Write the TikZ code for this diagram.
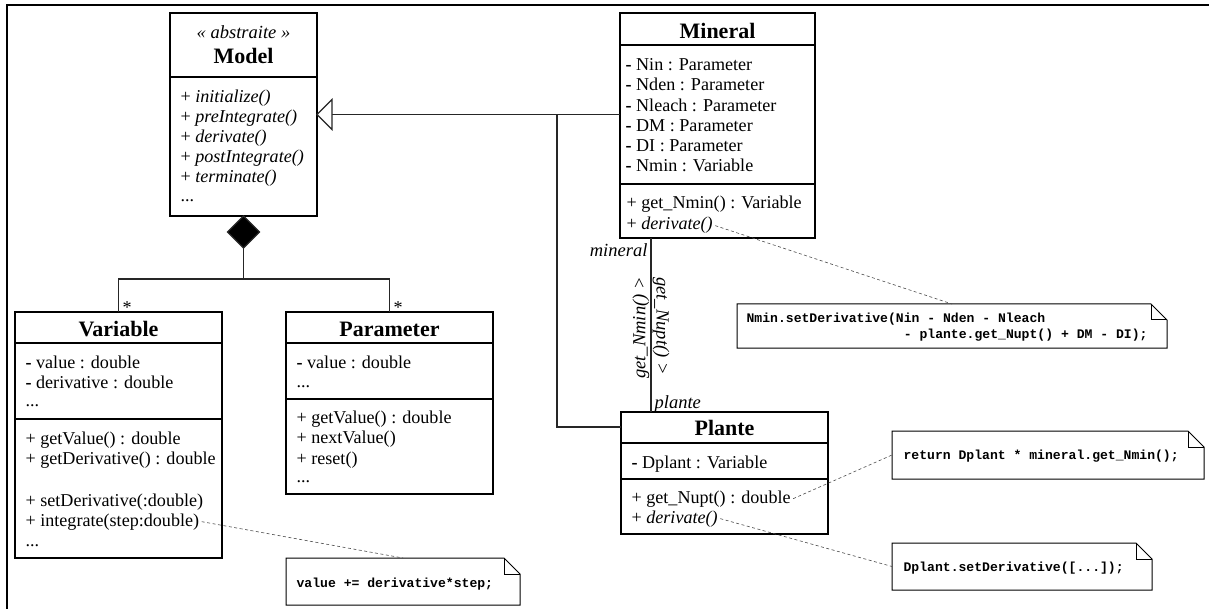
\documentclass[tikz,border=0pt]{standalone}
\usepackage{fontspec}
\setmainfont{Liberation Serif}
\newfontfamily\codefont{Liberation Mono}
\usetikzlibrary{calc}
\begin{document}
\begin{tikzpicture}[x=1pt,y=-1pt,
  line width=1.2pt,
  classbox/.style={draw, anchor=north west, inner sep=0pt, outer sep=0pt, fill=white},
  member/.style={anchor=base west, inner sep=0pt, font=\fontsize{18.1}{20}\selectfont},
  classname/.style={anchor=base, inner sep=0pt, font=\fontsize{22}{24}\selectfont\bfseries},
  role/.style={inner sep=0pt, font=\fontsize{18.5}{20}\selectfont\itshape},
  notebox/.style={anchor=north west, inner sep=0pt, outer sep=0pt},
  code/.style={anchor=base west, inner sep=0pt, font=\fontsize{13.1}{15}\codefont\bfseries},
  link/.style={line width=1.2pt, black!85},
  notelink/.style={line width=0.6pt, dash pattern=on 3pt off 2.5pt, black!70},
]
\useasboundingbox (0,0) rectangle (1209,609);
\fill[white] (0,0) rectangle (1209,609);

% frame
\draw (7,609) -- (7,5) -- (1209,5);

% ---------- Model ----------
\node[classbox, minimum width=147pt, minimum height=203pt] (model) at (170,13) {};
\draw ($(model.north west)+(0,64)$) -- ($(model.north east)+(0,64)$);
\node[role, anchor=base] at (243.5,39) {« abstraite »};
\node[classname] at (243.5,64) {Model};
\node[member] at (180,103) {+ \textit{initialize()}};
\node[member] at (180,123) {+ \textit{preIntegrate()}};
\node[member] at (180,143) {+ \textit{derivate()}};
\node[member] at (180,163) {+ \textit{postIntegrate()}};
\node[member] at (180,183) {+ \textit{terminate()}};
\node[member] at (180,202) {...};

% ---------- Mineral ----------
\node[classbox, minimum width=195pt, minimum height=225pt] (mineral) at (620,13) {};
\draw ($(mineral.north west)+(0,32)$) -- ($(mineral.north east)+(0,32)$);
\draw ($(mineral.north west)+(0,171)$) -- ($(mineral.north east)+(0,171)$);
\node[classname] at (717.5,39) {Mineral};
\node[member] at (625,71) {\textbf{-} Nin : Parameter};
\node[member] at (625,91) {\textbf{-} Nden : Parameter};
\node[member] at (625,112) {\textbf{-} Nleach : Parameter};
\node[member] at (625,132) {\textbf{-} DM : Parameter};
\node[member] at (625,152) {\textbf{-} DI : Parameter};
\node[member] at (625,172) {\textbf{-} Nmin : Variable};
\node[member] at (626,209) {+ get\_Nmin() : Variable};
\node[member] (minder) at (626,230) {+ \textit{derivate()}};

% ---------- Plante ----------
\node[classbox, minimum width=207pt, minimum height=122pt] (plante) at (621,412) {};
\draw ($(plante.north west)+(0,31)$) -- ($(plante.north east)+(0,31)$);
\draw ($(plante.north west)+(0,67)$) -- ($(plante.north east)+(0,67)$);
\node[classname] at (724.5,435) {Plante};
\node[member] at (631,468) {\textbf{-} Dplant : Variable};
\node[member] (nupt) at (631,503) {+ get\_Nupt() : double};
\node[member] (plder) at (631,523) {+ \textit{derivate()}};

% ---------- Variable ----------
\node[classbox, minimum width=207pt, minimum height=246pt] (variable) at (15,312) {};
\draw ($(variable.north west)+(0,31)$) -- ($(variable.north east)+(0,31)$);
\draw ($(variable.north west)+(0,107)$) -- ($(variable.north east)+(0,107)$);
\node[classname] at (118.5,336) {Variable};
\node[member] at (25,368) {\textbf{-} value : double};
\node[member] at (25,388) {\textbf{-} derivative : double};
\node[member] at (25,406) {...};
\node[member] at (25,444) {+ getValue() : double};
\node[member] at (25,464) {+ getDerivative() : double};
\node[member] at (25,506) {+ setDerivative(:double)};
\node[member] (integ) at (25,526) {+ integrate(step:double)};
\node[member] at (25,546) {...};

% ---------- Parameter ----------
\node[classbox, minimum width=207pt, minimum height=182pt] (parameter) at (286,312) {};
\draw ($(parameter.north west)+(0,31)$) -- ($(parameter.north east)+(0,31)$);
\draw ($(parameter.north west)+(0,87)$) -- ($(parameter.north east)+(0,87)$);
\node[classname] at (389.5,336) {Parameter};
\node[member] at (296,368) {\textbf{-} value : double};
\node[member] at (296,387) {...};
\node[member] at (296,423) {+ getValue() : double};
\node[member] at (296,443) {+ nextValue()};
\node[member] at (296,464) {+ reset()};
\node[member] at (296,482) {...};

% ---------- composition ----------
\draw[link, fill=black] (model.south) -- ++(16,16) -- ++(-16,16) coordinate (dmd) -- ++(-16,-16) -- cycle;
\coordinate (join) at ($(dmd)+(0,31)$);
\draw[link] (dmd) -- (join);
\draw[link] (variable.north) |- (join) -| (parameter.north);
\node[member] at (122,313) {*};
\node[member] at (393,313) {*};

% ---------- generalization ----------
\coordinate (gbase) at ($(model.east)+(15,0)$);
\coordinate (gsplit) at ($(model.east -| mineral.west)+(-63,0)$);
\draw[link] (gbase) -- (model.east -| mineral.west);
\draw[link] (gsplit) |- ($(plante.north west)+(0,15)$);
\draw[link, fill=white] (model.east) -- ($(gbase)+(0,-15)$) -- ($(gbase)+(0,15)$) -- cycle;

% ---------- association ----------
\coordinate (amin) at ($(mineral.south west)+(31,0)$);
\coordinate (apl) at (amin |- plante.north);
\draw[link] (amin) -- (apl);
\node[role, anchor=base east] at (648,257) {mineral};
\node[role, anchor=base west] at (654,408) {plante};
\node[role, rotate=90] at (641,328) {get\_Nmin() >};
\node[role, rotate=-90] at (661,326) {get\_Nupt() >};

% ---------- notes ----------
\node[notebox, minimum width=234pt, minimum height=47pt] (nval) at (286,558) {};
\node[notebox, minimum width=430pt, minimum height=44pt] (nmin) at (737,304) {};
\node[notebox, minimum width=312pt, minimum height=48pt] (nret) at (892,431) {};
\node[notebox, minimum width=260pt, minimum height=47pt] (ndpl) at (892,543) {};
\foreach \n in {nval,nmin,nret,ndpl}{
  \draw[fill=white, line width=1pt] (\n.north west) -- ($(\n.north east)+(-16,0)$) -- ($(\n.north east)+(0,16)$)
     -- (\n.south east) -- (\n.south west) -- cycle;
  \draw[line width=1pt] ($(\n.north east)+(-16,0)$) |- ($(\n.north east)+(0,16)$);
}
\node[code] at (296,587) {value += derivative*step;};
\node[code] at (746,323) {Nmin.setDerivative(Nin - Nden - Nleach};
\node[code] at (746,338) {\phantom{Nmin.setDerivative(N}- plante.get\_Nupt() + DM - DI);};
\node[code] at (903,459) {return Dplant * mineral.get\_Nmin();};
\node[code] at (903,571) {Dplant.setDerivative([...]);};

% ---------- note links ----------
\draw[notelink] ($(integ.east)+(2,0)$) -- (nval.north);
\draw[notelink] ($(minder.east)+(2,0)$) -- (nmin.north);
\draw[notelink] ($(nupt.east)+(2,0)$) -- (nret.west);
\draw[notelink] ($(plder.east)+(2,0)$) -- (ndpl.west);
\end{tikzpicture}
\end{document}
